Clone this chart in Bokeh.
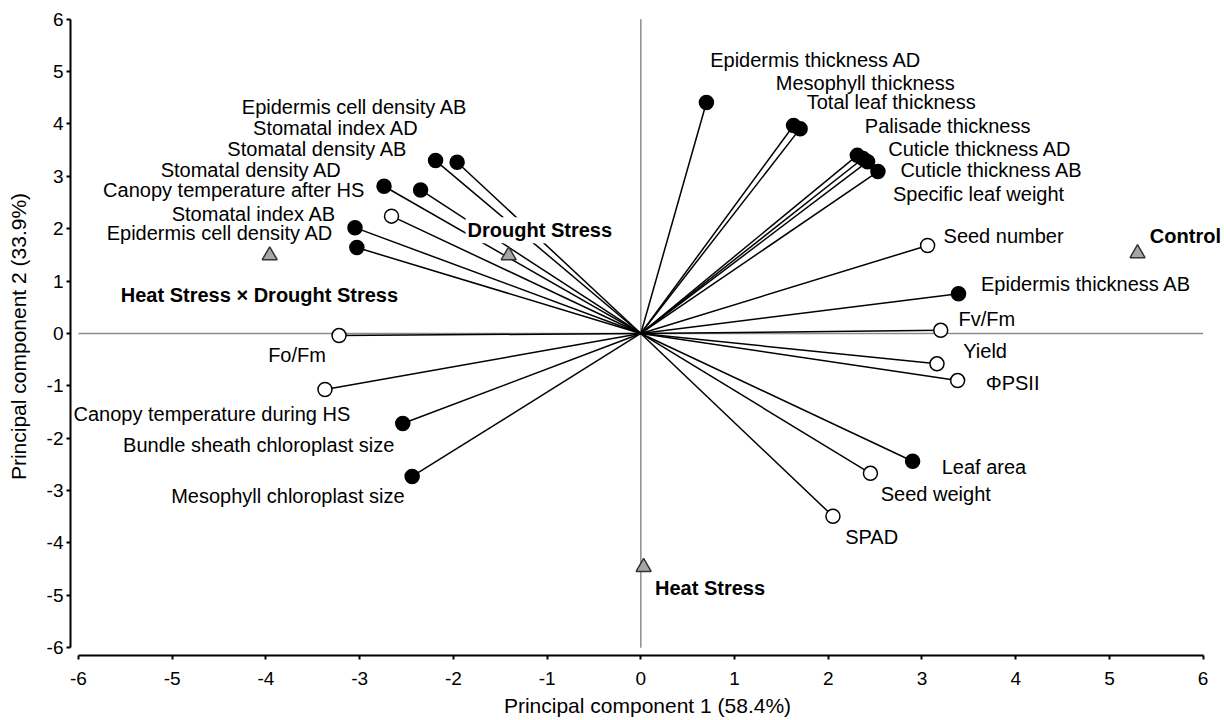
from bokeh.plotting import figure
from bokeh.models import Range1d, ColumnDataSource, FixedTicker
from bokeh.core.properties import value
from bokeh.embed import file_html
from bokeh.resources import INLINE

# ---- variable loadings (PC1, PC2) ----
variables = [
    "Epidermis thickness AD", "Mesophyll thickness", "Total leaf thickness",
    "Palisade thickness", "Cuticle thickness AD", "Cuticle thickness AB",
    "Specific leaf weight", "Seed number", "Epidermis thickness AB",
    "Fv/Fm", "Yield", "ΦPSII", "Leaf area", "Seed weight", "SPAD",
    "Mesophyll chloroplast size", "Bundle sheath chloroplast size",
    "Canopy temperature during HS", "Fo/Fm",
    "Epidermis cell density AB", "Stomatal index AD", "Stomatal density AB",
    "Stomatal density AD", "Canopy temperature after HS", "Stomatal index AB",
    "Epidermis cell density AD",
]
pc1 = [0.70, 1.63, 1.70, 2.31, 2.37, 2.42, 2.53, 3.06, 3.39,
       3.20, 3.16, 3.38, 2.90, 2.45, 2.05,
       -2.44, -2.54, -3.37, -3.22,
       -1.96, -2.19, -2.35, -2.74, -2.66, -3.05, -3.03]
pc2 = [4.41, 3.97, 3.91, 3.40, 3.34, 3.28, 3.09, 1.68, 0.76,
       0.06, -0.58, -0.90, -2.44, -2.67, -3.49,
       -2.73, -1.72, -1.07, -0.04,
       3.27, 3.30, 2.74, 2.81, 2.24, 2.02, 1.64]
filled = [True, True, True, True, True, True, True, False, True,
          False, False, False, True, False, False,
          True, True, False, False,
          True, True, True, True, False, True, True]

# label anchor positions (data units) and alignment
label_x = [0.74, 1.44, 1.77, 2.39, 2.64, 2.77, 2.69, 3.23, 3.63,
           3.39, 3.44, 3.68, 3.21, 2.56, 2.18,
           -2.52, -2.63, -3.10, -3.36,
           -1.85, -2.37, -2.49, -3.19, -2.95, -3.25, -3.28]
label_y = [5.23, 4.79, 4.41, 3.97, 3.53, 3.13, 2.67, 1.87, 0.94,
           0.27, -0.34, -0.95, -2.54, -3.07, -3.89,
           -3.11, -2.12, -1.53, -0.42,
           4.33, 3.93, 3.53, 3.13, 2.73, 2.29, 1.91]
label_align = ["left"] * 15 + ["right"] * 11

# ---- treatment scores ----
groups = ["Control", "Drought Stress", "Heat Stress × Drought Stress", "Heat Stress"]
g_pc1 = [5.30, -1.41, -3.96, 0.03]
g_pc2 = [1.53, 1.49, 1.49, -4.46]
g_label_x = [5.41, -1.87, -5.57, 0.13]
g_label_y = [1.87, 1.97, 0.74, -4.85]

axis_min, axis_max = -6, 6
ticks = list(range(-6, 7))
tick_labels = {t: str(t) for t in ticks}

FONT = "Liberation Sans"

p = figure(width=1224, height=720,
           x_range=Range1d(-6.0854, 6.2279), y_range=Range1d(-6.148, 6.032),
           output_backend="svg", toolbar_location=None,
           min_border_left=70, min_border_right=0, min_border_top=17,
           min_border_bottom=65)
p.outline_line_color = None
p.grid.visible = False
p.background_fill_color = "white"

for ax in (p.xaxis[0], p.yaxis[0]):
    ax.bounds = (axis_min, axis_max)
    ax.ticker = FixedTicker(ticks=ticks)
    ax.major_label_overrides = tick_labels
    ax.minor_tick_line_color = None
    ax.major_tick_in = 0
    ax.major_tick_out = 4
    ax.axis_line_width = 2
    ax.major_tick_line_width = 2
    ax.axis_line_color = "black"
    ax.major_tick_line_color = "black"
    ax.major_label_text_font = FONT
    ax.major_label_text_font_size = "19px"
    ax.major_label_text_color = "black"
    ax.axis_label_text_font = FONT
    ax.axis_label_text_font_size = "21px"
    ax.axis_label_text_font_style = "normal"
    ax.axis_label_text_color = "black"

p.xaxis.axis_label = "Principal component 1 (58.4%)"
p.yaxis.axis_label = "Principal component 2 (33.9%)"
p.xaxis.major_label_standoff = 12
p.xaxis.axis_label_standoff = 6
p.yaxis.major_label_standoff = 3
p.yaxis.axis_label_standoff = 14

# zero reference lines
p.segment(x0=[axis_min, 0], y0=[0, axis_min], x1=[axis_max, 0], y1=[0, axis_max],
          line_color="#8c8c8c", line_width=1.5)

src = ColumnDataSource(dict(
    x0=[0] * len(pc1), y0=[0] * len(pc1), x=pc1, y=pc2,
    fill=["black" if f else "white" for f in filled],
))
p.segment(x0="x0", y0="y0", x1="x", y1="y", source=src,
          line_color="black", line_width=1.5)

# variable labels
for align in ("left", "right"):
    idx = [i for i, a in enumerate(label_align) if a == align]
    p.text(x=[label_x[i] for i in idx], y=[label_y[i] for i in idx],
           text=[variables[i] for i in idx],
           text_align=align, text_baseline="middle",
           text_font=value(FONT), text_font_size="20px", text_color="black")

# group labels (bold, white background)
p.text(x=g_label_x, y=g_label_y, text=groups,
       text_align="left", text_baseline="middle",
       text_font=value(FONT), text_font_size="20px", text_font_style="bold",
       text_color="black", background_fill_color="white", padding=2)

p.scatter(x="x", y="y", source=src, marker="circle", size=14,
          fill_color="fill", line_color="black", line_width=1.5)
p.scatter(x=g_pc1, y=g_pc2, marker="triangle", size=15,
          fill_color="#a6a6a6", line_color="#333333", line_width=1.5)

open("out.html", "w").write(file_html(p, INLINE))
